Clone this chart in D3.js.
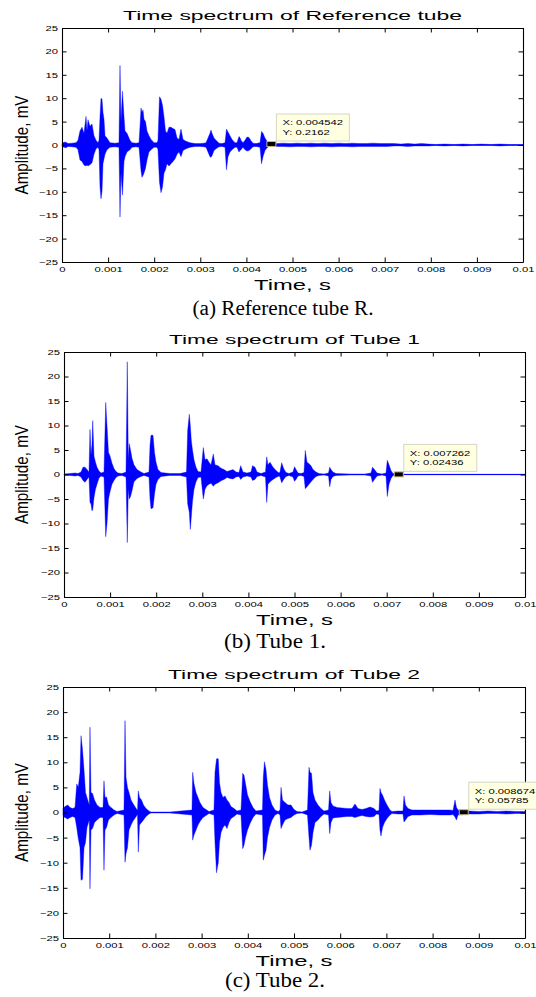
<!DOCTYPE html>
<meta charset="utf-8">
<style>
body { margin: 0; background: #fff; }
svg { display: block; background: #fff; }
.tick line { stroke: #000; }
.domain { stroke: #000; stroke-width: 1.1; }
.tick text { font-family: "Liberation Sans", Arial, sans-serif; font-size: 7.5px; fill: #000; }
.wave { fill: #0000ff; stroke: #0000ff; stroke-width: 0.4; }
.zero { stroke: #1a1aff; stroke-width: 1; }
.title, .xlab, .ylab { font-family: "Liberation Sans", Arial, sans-serif; fill: #000; }
.caption { font-family: "Liberation Serif", "Times New Roman", serif; font-size: 20px; fill: #000; }
.tipbox { fill: #ffffe1; stroke: #d6d6c2; stroke-width: 1; }
.tipmark { fill: #000; stroke: #c8b880; stroke-width: 1; }
.tiptext { font-family: "Liberation Sans", Arial, sans-serif; font-size: 7.5px; fill: #000; }
</style>
<body>
<script src="https://d3js.org/d3.v7.min.js"></script>
<script>
var width = 536
var height = 997

// axis ticks
var xTicks = [0, 0.001, 0.002, 0.003, 0.004, 0.005, 0.006, 0.007, 0.008, 0.009, 0.01]
var xTickLabels = ['0', '0.001', '0.002', '0.003', '0.004', '0.005', '0.006', '0.007', '0.008', '0.009', '0.01']
var yTicks = [-25, -20, -15, -10, -5, 0, 5, 10, 15, 20, 25]

var titles = ['Time spectrum of Reference tube', 'Time spectrum of Tube 1', 'Time spectrum of Tube 2']
var captions = ['(a) Reference tube R.', '(b) Tube 1.', '(c) Tube 2.']
var xLabel = 'Time, s'
var yLabel = 'Amplitude, mV'

// data tips
var tipX = [0.004542, 0.007262, 0.008674]
var tipY = [0.2162, 0.02436, 0.05785]

// signal envelopes: [time in ms, upper mV, lower mV]
var refEnv = [
    [0, 0.3, -0.3], [0.043, 0.6, -0.5], [0.087, 0.6, -0.6], [0.13, 0.3, -0.3], [0.217, 0.4, -0.4],
    [0.304, 0.5, -0.5], [0.347, 1.0, -1.0], [0.390, 3.0, -3.2], [0.434, 3.8, -3.5], [0.477, 2.5, -4.3],
    [0.521, 6.1, -4.5], [0.542, 3.0, -4.3], [0.564, 5.4, -4.5], [0.607, 4.0, -4.2], [0.651, 4.5, -3.8],
    [0.694, 2.0, -2.0], [0.738, 1.0, -0.8], [0.781, 0.5, -0.5], [0.803, 1.0, -1.0], [0.824, 6.0, -9.0],
    [0.846, 10.0, -11.5], [0.868, 9.8, -10.0], [0.889, 7.0, -4.0], [0.911, 5.5, -3.0], [0.933, 2.0, -2.0],
    [0.976, 1.5, -1.0], [1.041, 0.5, -0.5], [1.150, 0.4, -0.4], [1.236, 0.5, -0.5], [1.258, 17.0, -15.4],
    [1.280, 5.0, -6.0], [1.312, 11.5, -10.7], [1.345, 6.0, -3.5], [1.367, 3.0, -2.5], [1.410, 2.5, -1.5],
    [1.475, 1.0, -1.0], [1.518, 0.5, -0.5], [1.605, 0.4, -0.4], [1.670, 0.5, -0.5], [1.692, 4.0, -3.0],
    [1.714, 7.9, -5.5], [1.735, 7.0, -6.9], [1.757, 7.5, -6.5], [1.779, 5.5, -6.0], [1.811, 5.0, -5.0],
    [1.844, 3.0, -3.2], [1.887, 2.0, -1.5], [1.931, 1.2, -1.0], [1.996, 0.5, -0.5], [2.061, 0.5, -0.5],
    [2.082, 1.0, -1.0], [2.115, 10.3, -8.0], [2.148, 9.8, -10.2], [2.180, 8.5, -9.0], [2.213, 6.0, -6.0],
    [2.245, 3.0, -5.3], [2.278, 2.5, -4.0], [2.321, 3.8, -4.5], [2.364, 3.8, -4.0], [2.408, 3.5, -3.5],
    [2.451, 3.3, -3.0], [2.495, 1.5, -2.0], [2.538, 1.2, -1.5], [2.581, 3.4, -2.5], [2.625, 1.2, -1.2],
    [2.690, 0.8, -0.8], [2.777, 0.5, -0.5], [2.885, 0.3, -0.3], [2.993, 0.3, -0.3], [3.080, 0.4, -0.4],
    [3.124, 0.5, -0.5], [3.167, 1.5, -1.5], [3.210, 2.5, -2.5], [3.232, 3.2, -2.6], [3.254, 2.5, -2.3],
    [3.297, 1.5, -1.2], [3.341, 1.0, -0.8], [3.406, 0.4, -0.4], [3.471, 0.3, -0.3], [3.536, 0.5, -0.5],
    [3.568, 3.4, -5.3], [3.601, 2.8, -2.5], [3.644, 2.0, -1.5], [3.688, 1.2, -1.0], [3.753, 0.5, -0.5],
    [3.796, 0.5, -0.5], [3.839, 1.8, -1.5], [3.861, 1.6, -1.2], [3.883, 1.0, -1.0], [3.926, 0.5, -0.5],
    [3.970, 1.0, -1.0], [4.013, 1.7, -1.3], [4.056, 1.6, -1.2], [4.100, 0.9, -0.8], [4.143, 0.4, -0.4],
    [4.208, 0.3, -0.3], [4.295, 0.5, -0.5], [4.328, 2.9, -4.0], [4.360, 2.5, -2.5], [4.403, 1.5, -1.2],
    [4.447, 0.8, -0.6], [4.490, 0.3, -0.3], [4.65, 0.3, -0.3], [4.8, 0.4, -0.3], [4.95, 0.3, -0.4],
    [5.1, 0.4, -0.3], [5.25, 0.3, -0.3], [5.4, 0.4, -0.4], [5.55, 0.3, -0.3], [5.7, 0.4, -0.3],
    [5.85, 0.3, -0.4], [6.0, 0.4, -0.3], [6.15, 0.3, -0.3], [6.3, 0.4, -0.4], [6.45, 0.3, -0.3],
    [6.6, 0.3, -0.3], [6.75, 0.4, -0.3], [6.9, 0.3, -0.3], [7.05, 0.3, -0.3], [7.2, 0.3, -0.2],
    [7.35, 0.2, -0.2], [7.5, 0.3, -0.3], [7.65, 0.2, -0.2], [7.8, 0.3, -0.2], [7.95, 0.2, -0.2],
    [8.1, 0.1, -0.1], [8.3, 0.2, -0.2], [8.5, 0.1, -0.1], [8.7, 0.2, -0.2], [8.9, 0.1, -0.1],
    [9.1, 0.2, -0.1], [9.3, 0.1, -0.1], [9.5, 0.2, -0.2], [9.7, 0.1, -0.1], [10, 0.1, -0.1]
]

var tube1Env = [
    [0, 0.1, -0.1], [0.130, 0.2, -0.2], [0.239, 0.3, -0.3], [0.304, 0.2, -0.2], [0.369, 0.5, -0.5],
    [0.412, 1.5, -1.2], [0.456, 1.5, -1.6], [0.499, 1.0, -1.0], [0.542, 0.5, -0.5], [0.564, 9.2, -5.7],
    [0.586, 4.0, -6.0], [0.607, 6.0, -7.4], [0.623, 11.0, -7.2], [0.651, 3.7, -4.7], [0.683, 2.5, -3.0],
    [0.716, 1.5, -2.0], [0.759, 0.7, -0.7], [0.803, 0.3, -0.3], [0.868, 0.5, -0.5], [0.905, 14.7, -12.7],
    [0.933, 10.0, -10.0], [0.965, 4.5, -5.0], [0.998, 3.8, -3.5], [1.041, 2.3, -2.0], [1.085, 1.2, -1.2],
    [1.128, 0.6, -0.6], [1.171, 0.3, -0.3], [1.258, 0.2, -0.2], [1.345, 0.5, -0.5], [1.373, 23.0, -13.9],
    [1.395, 3.0, -3.0], [1.416, 6.3, -5.0], [1.443, 5.0, -4.5], [1.475, 3.3, -3.3], [1.518, 2.0, -1.5],
    [1.584, 1.0, -0.8], [1.670, 0.5, -0.4], [1.735, 0.2, -0.2], [1.844, 0.5, -0.5], [1.866, 6.0, -5.0],
    [1.887, 8.0, -7.0], [1.931, 8.0, -6.8], [1.963, 4.5, -4.0], [1.996, 2.5, -2.0], [2.039, 1.0, -1.0],
    [2.104, 0.4, -0.4], [2.299, 0.2, -0.2], [2.516, 0.2, -0.2], [2.657, 0.5, -0.5], [2.683, 9.0, -6.0],
    [2.718, 12.3, -7.7], [2.740, 10.0, -11.2], [2.761, 7.0, -8.7], [2.787, 5.0, -5.5], [2.820, 3.0, -3.0],
    [2.863, 1.5, -1.5], [2.907, 0.6, -0.6], [2.972, 0.5, -0.5], [3.022, 5.5, -5.0], [3.059, 3.0, -3.0],
    [3.102, 3.2, -2.3], [3.145, 2.5, -2.0], [3.189, 2.0, -1.8], [3.239, 4.2, -2.4], [3.275, 2.0, -2.0],
    [3.341, 1.8, -1.7], [3.406, 1.3, -1.3], [3.471, 1.0, -1.0], [3.536, 0.6, -0.6], [3.601, 0.8, -0.8],
    [3.666, 1.0, -0.9], [3.731, 0.5, -0.5], [3.796, 0.4, -0.4], [3.833, 1.8, -1.0], [3.883, 0.5, -0.5],
    [3.970, 0.3, -0.3], [4.056, 0.5, -0.5], [4.089, 1.8, -1.2], [4.143, 1.5, -1.0], [4.187, 0.5, -0.4],
    [4.273, 0.2, -0.2], [4.371, 0.5, -0.5], [4.397, 3.6, -5.7], [4.425, 2.0, -2.0], [4.469, 2.5, -1.5],
    [4.534, 1.5, -1.0], [4.599, 0.8, -0.6], [4.664, 0.3, -0.3], [4.685, 0.5, -0.5], [4.722, 2.4, -1.7],
    [4.764, 1.2, -1.0], [4.816, 0.4, -0.4], [4.881, 0.2, -0.2], [4.967, 0.5, -0.5], [5.000, 1.6, -1.4],
    [5.033, 1.0, -1.0], [5.076, 0.3, -0.3], [5.141, 0.2, -0.2], [5.206, 0.4, -0.4], [5.234, 4.9, -2.9],
    [5.271, 2.5, -2.5], [5.315, 2.2, -2.0], [5.358, 1.8, -1.5], [5.401, 1.0, -1.0], [5.466, 0.5, -0.4],
    [5.531, 0.2, -0.2], [5.640, 0.1, -0.1], [5.738, 0.3, -0.3], [5.764, 1.5, -2.5], [5.792, 1.0, -1.0],
    [5.835, 0.5, -0.4], [5.900, 0.2, -0.2], [6.204, 0.1, -0.1], [6.529, 0.1, -0.1], [6.659, 0.3, -0.3],
    [6.692, 1.5, -1.6], [6.735, 1.0, -1.0], [6.790, 0.3, -0.3], [6.898, 0.1, -0.1], [6.985, 0.3, -0.3],
    [7.013, 2.9, -4.5], [7.050, 2.0, -2.0], [7.093, 0.8, -0.8], [7.137, 0.2, -0.2], [7.3, 0.05, -0.05],
    [10, 0.05, -0.05]
]

var tube2Env = [
    [0, 0.8, -0.8], [0.043, 1.2, -1.0], [0.102, 1.5, -1.3], [0.152, 1.0, -1.0], [0.206, 0.8, -0.8],
    [0.260, 1.0, -1.0], [0.297, 5.7, -3.0], [0.331, 5.1, -5.2], [0.368, 8.0, -7.0], [0.390, 15.3, -13.5],
    [0.422, 12.6, -13.3], [0.455, 8.5, -7.0], [0.487, 4.0, -6.0], [0.519, 3.0, -3.0], [0.552, 2.0, -2.0],
    [0.569, 1.5, -1.5], [0.584, 17.0, -15.2], [0.606, 4.0, -3.5], [0.639, 3.8, -3.2], [0.682, 2.5, -2.0],
    [0.736, 1.5, -1.5], [0.801, 1.0, -1.0], [0.866, 1.0, -1.0], [0.887, 6.3, -11.5], [0.909, 3.0, -3.5],
    [0.942, 3.1, -3.0], [0.985, 1.5, -1.5], [1.039, 1.0, -1.0], [1.104, 0.5, -0.5], [1.169, 0.2, -0.2],
    [1.320, 0.5, -0.5], [1.342, 18.3, -9.9], [1.364, 7.0, -8.2], [1.396, 5.0, -7.0], [1.429, 4.0, -3.5],
    [1.472, 2.5, -2.5], [1.515, 1.8, -1.7], [1.569, 1.0, -1.0], [1.613, 0.4, -0.4], [1.630, 4.3, -7.9],
    [1.656, 3.0, -2.5], [1.699, 2.5, -2.0], [1.742, 1.5, -1.5], [1.797, 0.8, -0.8], [1.861, 0.3, -0.3],
    [1.905, 0.1, -0.1], [2.316, 0.1, -0.1], [2.792, 0.5, -0.5], [2.807, 8.0, -5.5], [2.835, 5.8, -4.5],
    [2.879, 4.0, -3.5], [2.922, 3.0, -2.5], [2.965, 2.0, -1.8], [3.030, 1.0, -1.0], [3.095, 0.6, -0.6],
    [3.160, 0.2, -0.2], [3.268, 0.5, -0.5], [3.290, 8.0, -6.0], [3.323, 10.7, -12.0], [3.361, 10.7, -10.0],
    [3.387, 6.0, -6.0], [3.420, 4.0, -4.0], [3.463, 3.0, -3.0], [3.506, 3.3, -2.5], [3.550, 2.5, -3.2],
    [3.593, 2.0, -2.0], [3.636, 1.2, -1.2], [3.701, 0.8, -0.8], [3.766, 0.3, -0.3], [3.853, 0.5, -0.5],
    [3.890, 7.8, -7.2], [3.918, 7.4, -6.5], [3.950, 5.8, -5.0], [3.994, 3.5, -3.5], [4.048, 2.2, -2.2],
    [4.113, 1.0, -1.0], [4.177, 0.3, -0.3], [4.318, 0.5, -0.5], [4.335, 7.0, -9.5], [4.361, 10.1, -8.5],
    [4.394, 8.5, -7.5], [4.426, 5.5, -5.0], [4.470, 3.0, -3.0], [4.524, 1.5, -1.5], [4.589, 0.5, -0.5],
    [4.654, 0.2, -0.2], [4.697, 0.5, -0.5], [4.719, 5.0, -3.2], [4.751, 2.5, -2.5], [4.805, 2.0, -1.5],
    [4.870, 1.5, -1.2], [4.935, 1.5, -1.0], [5.000, 0.6, -0.5], [5.065, 0.2, -0.2], [5.173, 0.1, -0.1],
    [5.292, 0.5, -0.5], [5.325, 9.0, -5.0], [5.346, 8.0, -7.5], [5.379, 7.8, -6.5], [5.411, 4.0, -4.0],
    [5.455, 2.5, -2.0], [5.519, 1.5, -1.5], [5.584, 0.8, -0.8], [5.649, 0.3, -0.3], [5.747, 0.5, -0.5],
    [5.773, 4.3, -4.2], [5.801, 2.0, -2.0], [5.844, 1.3, -1.1], [5.931, 1.0, -1.0], [6.039, 0.9, -0.9],
    [6.147, 0.8, -0.8], [6.255, 0.8, -0.8], [6.320, 1.7, -1.0], [6.385, 0.8, -0.8], [6.472, 0.6, -0.6],
    [6.558, 0.8, -0.8], [6.645, 1.1, -0.9], [6.732, 0.8, -0.8], [6.786, 0.3, -0.3], [6.840, 0.4, -0.4],
    [6.861, 4.8, -3.5], [6.883, 4.0, -4.7], [6.916, 3.5, -3.0], [6.959, 2.5, -2.0], [7.013, 1.5, -1.2],
    [7.078, 0.5, -0.5], [7.121, 0.2, -0.2], [7.251, 0.3, -0.3], [7.359, 0.3, -0.3], [7.381, 3.3, -1.9],
    [7.413, 1.5, -1.5], [7.468, 0.8, -0.8], [7.554, 0.5, -0.5], [7.727, 0.5, -0.5], [7.944, 0.5, -0.4],
    [8.160, 0.5, -0.5], [8.377, 0.5, -0.5], [8.442, 0.4, -0.4], [8.485, 2.5, -0.9], [8.517, 1.0, -1.5],
    [8.550, 0.5, -0.5], [8.8, 0.3, -0.3], [9.0, 0.2, -0.3], [9.2, 0.3, -0.2], [9.4, 0.2, -0.2],
    [9.6, 0.3, -0.3], [9.8, 0.2, -0.2], [10, 0.2, -0.2]
]

var envs = [refEnv, tube1Env, tube2Env]

// where each panel sits on the page
var layout = [
    {left: 62, right: 523, top: 28, bottom: 262, titleW: 339, capX: 283, capY: 315, capW: 181},
    {left: 64, right: 525, top: 352, bottom: 597, titleW: 251, capX: 275, capY: 648, capW: 102},
    {left: 63, right: 525, top: 687, bottom: 938, titleW: 252, capX: 275, capY: 987, capW: 100}
]

var sx = 1.5   // the source figure is stretched sideways

var svg = d3.select('body').append('svg')
    .attr('width', width)
    .attr('height', height)

layout.forEach(function (L, i) { drawPanel(L, i) })

function drawPanel(L, i) {
    var x = d3.scaleLinear().domain([0, 0.01]).range([L.left, L.right])
    var y = d3.scaleLinear().domain([-25, 25]).range([L.bottom, L.top])
    var g = svg.append('g')

    g.append('line')
        .attr('class', 'zero')
        .attr('x1', x(0)).attr('x2', x(0.01))
        .attr('y1', y(0)).attr('y2', y(0))

    var area = d3.area()
        .x(function (d) { return x(d[0] / 1000) })
        .y0(function (d) { return y(d[2]) })
        .y1(function (d) { return y(d[1]) })

    g.append('path')
        .datum(envs[i])
        .attr('class', 'wave')
        .attr('d', area)

    // box with inward ticks on every side
    var bottom = g.append('g')
        .attr('transform', 'translate(0,' + L.bottom + ')')
        .call(d3.axisBottom(x).tickValues(xTicks)
            .tickFormat(function (d, k) { return xTickLabels[k] })
            .tickSize(-4.5).tickSizeOuter(0))
    bottom.selectAll('text')
        .attr('dy', null)
        .attr('y', 10)
        .attr('transform', 'scale(' + sx + ',1)')

    var left = g.append('g')
        .attr('transform', 'translate(' + L.left + ',0)')
        .call(d3.axisLeft(y).tickValues(yTicks).tickSize(-4.5).tickSizeOuter(0))
    left.selectAll('text')
        .attr('x', -4 / sx)
        .attr('transform', 'scale(' + sx + ',1)')

    g.append('g')
        .attr('transform', 'translate(0,' + L.top + ')')
        .call(d3.axisTop(x).tickValues(xTicks).tickFormat('').tickSize(-4.5).tickSizeOuter(0))
    g.append('g')
        .attr('transform', 'translate(' + L.right + ',0)')
        .call(d3.axisRight(y).tickValues(yTicks).tickFormat('').tickSize(-4.5).tickSizeOuter(0))

    var cx = (L.left + L.right) / 2
    var cy = (L.top + L.bottom) / 2

    g.append('text')
        .attr('class', 'title')
        .attr('x', cx).attr('y', L.top - 8.5)
        .attr('text-anchor', 'middle')
        .attr('font-size', 13)
        .attr('textLength', L.titleW)
        .attr('lengthAdjust', 'spacingAndGlyphs')
        .text(titles[i])

    g.append('text')
        .attr('class', 'xlab')
        .attr('x', cx).attr('y', L.bottom + 28)
        .attr('text-anchor', 'middle')
        .attr('font-size', 15)
        .attr('textLength', 77)
        .attr('lengthAdjust', 'spacingAndGlyphs')
        .text(xLabel)

    g.append('text')
        .attr('class', 'ylab')
        .attr('transform', 'translate(28,' + cy + ') rotate(-90) scale(1,1.4)')
        .attr('text-anchor', 'middle')
        .attr('font-size', 13)
        .attr('textLength', 99)
        .attr('lengthAdjust', 'spacingAndGlyphs')
        .text(yLabel)

    g.append('text')
        .attr('class', 'caption')
        .attr('x', L.capX).attr('y', L.capY)
        .attr('text-anchor', 'middle')
        .attr('textLength', L.capW)
        .attr('lengthAdjust', 'spacingAndGlyphs')
        .text(captions[i])

    // data tip
    var px = x(tipX[i])
    var py = y(tipY[i])
    var tip = g.append('g')
    tip.append('rect')
        .attr('class', 'tipbox')
        .attr('x', px + 5).attr('y', py - 30)
        .attr('width', 73).attr('height', 27)
    tip.append('rect')
        .attr('class', 'tipmark')
        .attr('x', px - 4.5).attr('y', py - 2.5)
        .attr('width', 9).attr('height', 5)
    tip.selectAll('text.tiptext')
        .data(['X: ' + tipX[i], 'Y: ' + tipY[i]])
        .enter().append('text')
        .attr('class', 'tiptext')
        .attr('transform', function (d, k) {
            return 'translate(' + (px + 11) + ',' + (py - 18.5 + k * 9.5) + ') scale(' + sx + ',1)'
        })
        .text(function (d) { return d })
}
</script>
</body>
